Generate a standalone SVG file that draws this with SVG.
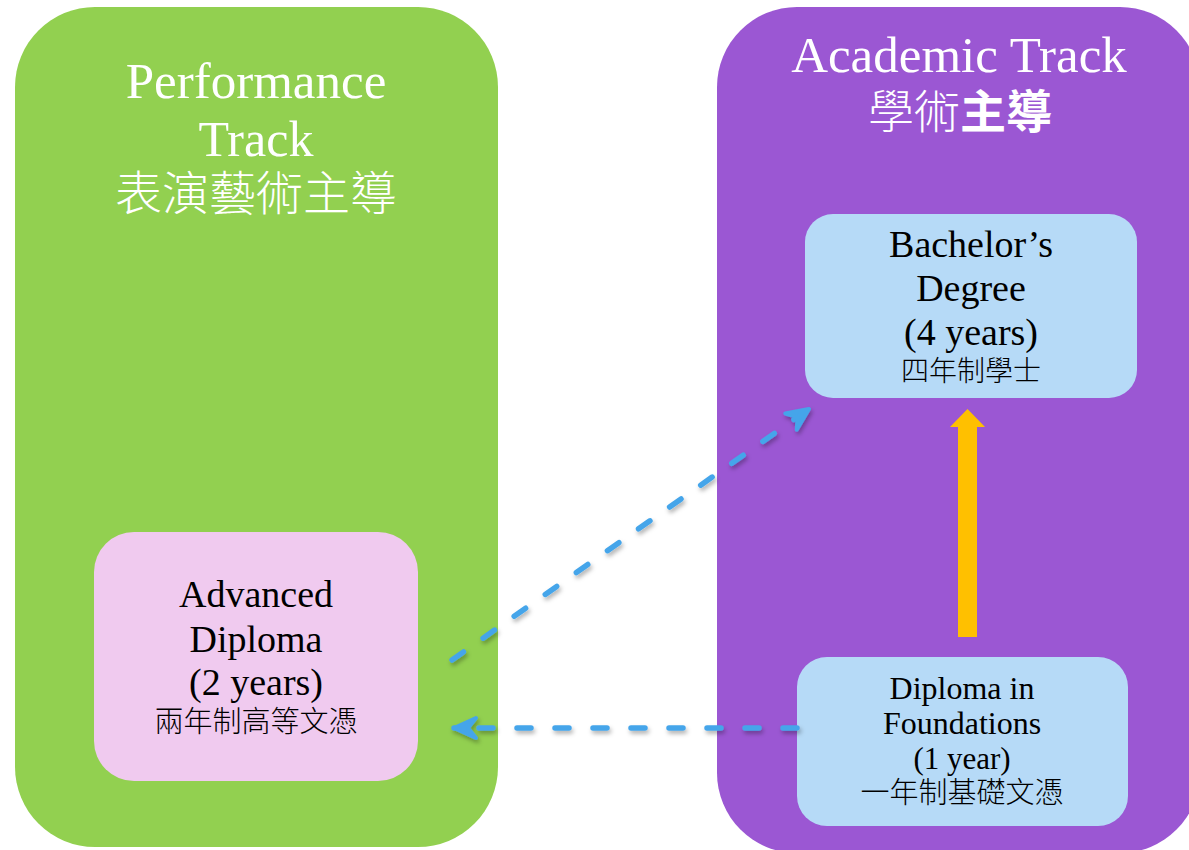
<svg xmlns="http://www.w3.org/2000/svg" width="1189" height="850" viewBox="0 0 1189 850">
  <style>
    .title { font-family: "Liberation Serif", "Noto Sans CJK TC", serif; fill: #ffffff; text-anchor: middle; }
    .titlecjk { font-family: "Noto Sans CJK TC", "Noto Sans CJK SC", sans-serif; font-weight: 300; fill: #ffffff; text-anchor: middle; }
    .lbl { font-family: "Liberation Serif", "Noto Sans CJK TC", serif; fill: #000000; text-anchor: middle; }
    .cjk { font-family: "Noto Sans CJK TC", "Noto Sans CJK SC", sans-serif; font-weight: 300; fill: #000000; text-anchor: middle; }
    .dash { fill: none; stroke: #45A5EA; stroke-width: 5.5; stroke-linecap: round; stroke-dasharray: 14 24; }
  </style>
  <defs>
    <filter id="shadow" x="-20%" y="-20%" width="140%" height="140%">
      <feDropShadow dx="1.5" dy="3" stdDeviation="2" flood-color="#000000" flood-opacity="0.3"/>
    </filter>
    <marker id="blueHead" markerUnits="userSpaceOnUse" viewBox="-30 -16 36 32" markerWidth="36" markerHeight="32" refX="0" refY="0" orient="auto">
      <path d="M0,0 L-22,-10 L-14,0 L-22,10 Z" fill="#45A5EA" stroke="#45A5EA" stroke-width="4" stroke-linejoin="round"/>
    </marker>
  </defs>

  <g id="performance-track">
    <rect x="15" y="7" width="483" height="840" rx="80" ry="80" fill="#92D050"/>
    <text class="title" x="256" y="98" font-size="51">Performance</text>
    <text class="title" x="256" y="156" font-size="50">Track</text>
    <text class="titlecjk" x="256" y="210" font-size="47">表演藝術主導</text>
  </g>

  <g id="academic-track">
    <rect x="717" y="7" width="483" height="846" rx="80" ry="80" fill="#9B57D3"/>
    <text class="title" x="959" y="72" font-size="51">Academic Track</text>
    <text class="titlecjk" x="960" y="128" font-size="46">學術<tspan font-weight="bold">主導</tspan></text>
  </g>

  <g id="advanced-diploma">
    <rect x="94" y="532" width="324" height="249" rx="40" ry="40" fill="#F0CAEF"/>
    <text class="lbl" x="256" y="607" font-size="38">Advanced</text>
    <text class="lbl" x="256" y="652" font-size="38">Diploma</text>
    <text class="lbl" x="256" y="695" font-size="38">(2 years)</text>
    <text class="cjk" x="256" y="732" font-size="29">兩年制高等文憑</text>
  </g>

  <g id="bachelors-degree">
    <rect x="805" y="214" width="332" height="184" rx="28" ry="28" fill="#B6DAF7"/>
    <text class="lbl" x="971" y="257" font-size="38">Bachelor’s</text>
    <text class="lbl" x="971" y="301" font-size="38">Degree</text>
    <text class="lbl" x="971" y="345" font-size="38">(4 years)</text>
    <text class="cjk" x="971" y="381" font-size="28">四年制學士</text>
  </g>

  <g id="diploma-foundations">
    <rect x="797" y="657" width="331" height="169" rx="30" ry="30" fill="#B6DAF7"/>
    <text class="lbl" x="962" y="699" font-size="32">Diploma in</text>
    <text class="lbl" x="962" y="734" font-size="32">Foundations</text>
    <text class="lbl" x="962" y="769" font-size="31">(1 year)</text>
    <text class="cjk" x="962" y="803" font-size="29">一年制基礎文憑</text>
  </g>

  <g id="connectors">
    <path d="M958,637 L958,427 L950,427 L967.5,409 L985,427 L977,427 L977,637 Z" fill="#FFC000"/>
    <g filter="url(#shadow)">
      <path class="dash" d="M452,660 L809,409" marker-end="url(#blueHead)"/>
      <path class="dash" d="M797,728 L454,728" marker-end="url(#blueHead)"/>
    </g>
  </g>
</svg>
